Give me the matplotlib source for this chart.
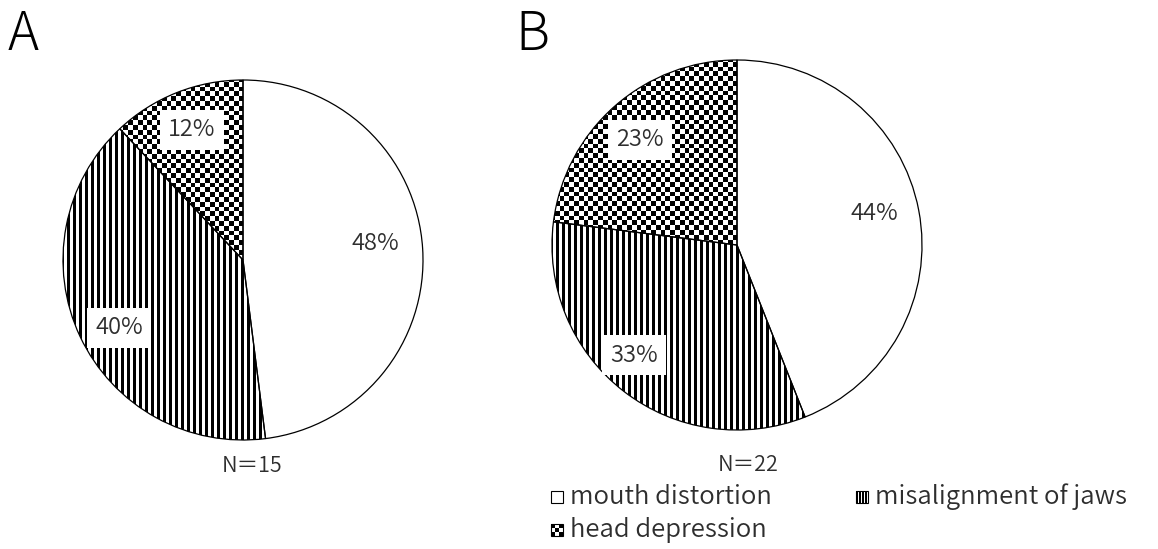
import numpy as np
import matplotlib
matplotlib.use("Agg")
import matplotlib.pyplot as plt
from matplotlib.patches import Rectangle

plt.rcParams["font.family"] = ["Noto Sans CJK JP", "DejaVu Sans"]

# 数据
categories = ["mouth distortion", "misalignment of jaws", "head depression"]
panels = ["A", "B"]
share_a = [48, 40, 12]
share_b = [44, 33, 23]
n_totals = [15, 22]

W, H = 1158, 549
TEXT = "#2e2e2e"
LIGHT = 350

fig = plt.figure(figsize=(W / 100, H / 100), dpi=100)
ax = fig.add_axes([0, 0, 1, 1])


def stripe_tex(x0, x1, y0, y1):
    # 竖条纹，周期约6px
    n = int((x1 - x0) * 2)
    cols = np.arange(n) % 12
    row = (cols < 7).astype(float)
    arr = 1 - np.tile(row, (2, 1))
    return arr, (x0, x0 + n / 2, y0, y1)


def checker_tex(x0, x1, y0, y1, s=4.8):
    nx = int((x1 - x0) / s) + 1
    ny = int((y1 - y0) / s) + 1
    ii, jj = np.meshgrid(np.arange(nx), np.arange(ny))
    arr = ((ii + jj) % 2).astype(float)
    return arr, (x0, x0 + nx * s, y0, y0 + ny * s)


def fill_wedge(wedge, cx, cy, r, kind):
    x0, x1, y0, y1 = cx - r - 2, cx + r + 2, cy - r - 2, cy + r + 2
    if kind == "stripe":
        arr, ext = stripe_tex(x0, x1, y0, y1)
    else:
        arr, ext = checker_tex(x0, x1, y0, y1)
    im = ax.imshow(arr, cmap="gray", vmin=0, vmax=1, extent=ext,
                   interpolation="nearest", origin="lower", zorder=0.5)
    im.set_clip_path(wedge)
    wedge.set_facecolor("none")
    wedge.set_zorder(1)


def draw_pie(shares, cx, cy, r, label_pos, n_total, n_pos):
    cyd = H - cy
    wedges, _ = ax.pie(shares, center=(cx, cyd), radius=r, startangle=90,
                       counterclock=False, colors=["white"] * 3,
                       wedgeprops={"edgecolor": "black", "linewidth": 0.9},
                       frame=True)
    fill_wedge(wedges[1], cx, cyd, r, "stripe")
    fill_wedge(wedges[2], cx, cyd, r, "checker")
    for i, (val, (lx, ly)) in enumerate(zip(shares, label_pos)):
        kw = {}
        if i > 0:
            kw["bbox"] = dict(boxstyle="square,pad=0.34", fc="white", ec="none")
        ax.text(lx, H - ly, f"{val}%", ha="center", va="center",
                fontsize=17, color=TEXT, fontweight=LIGHT, zorder=3, **kw)
    ax.text(n_pos[0], H - n_pos[1], f"N＝{n_total}", ha="center", va="center",
            fontsize=15.5, color=TEXT, fontweight=LIGHT)


draw_pie(share_a, 243, 260, 180, [(375, 244), (119, 328), (192, 130)],
         n_totals[0], (252, 466))
draw_pie(share_b, 737, 245, 185, [(874, 213), (634, 355), (640, 140)],
         n_totals[1], (748, 465))

# 面板字母
ax.text(8, H - 50, panels[0], fontsize=38, color="black",
        fontweight=300, va="baseline")
ax.text(515, H - 50, panels[1], fontsize=38, color="black",
        fontweight=300, va="baseline")

# 图例
leg_pos = [(551, 497), (856, 497), (551, 530)]
for k, (name, (lx, ly)) in enumerate(zip(categories, leg_pos)):
    sq = Rectangle((lx, H - ly - 6), 12, 12, fc="white" if k == 0 else "none",
                   ec="black", lw=0.8, zorder=2)
    ax.add_patch(sq)
    if k == 1:
        arr = 1 - np.tile((np.arange(12) % 3 < 2).astype(float), (2, 1))
        im = ax.imshow(arr, cmap="gray", vmin=0, vmax=1,
                       extent=(lx, lx + 12, H - ly - 6, H - ly + 6),
                       interpolation="nearest", zorder=1)
        im.set_clip_path(sq)
    elif k == 2:
        ii, jj = np.meshgrid(np.arange(3), np.arange(3))
        arr = ((ii + jj) % 2).astype(float)
        im = ax.imshow(arr, cmap="gray", vmin=0, vmax=1,
                       extent=(lx, lx + 12, H - ly - 6, H - ly + 6),
                       interpolation="nearest", zorder=1)
        im.set_clip_path(sq)
    ax.text(lx + 19, H - ly, name, ha="left", va="center",
            fontsize=18.5, color=TEXT, fontweight=LIGHT)

ax.set_xlim(0, W)
ax.set_ylim(0, H)
ax.set_aspect("equal")
ax.axis("off")

fig.savefig("out.png", dpi=100, facecolor="white")
